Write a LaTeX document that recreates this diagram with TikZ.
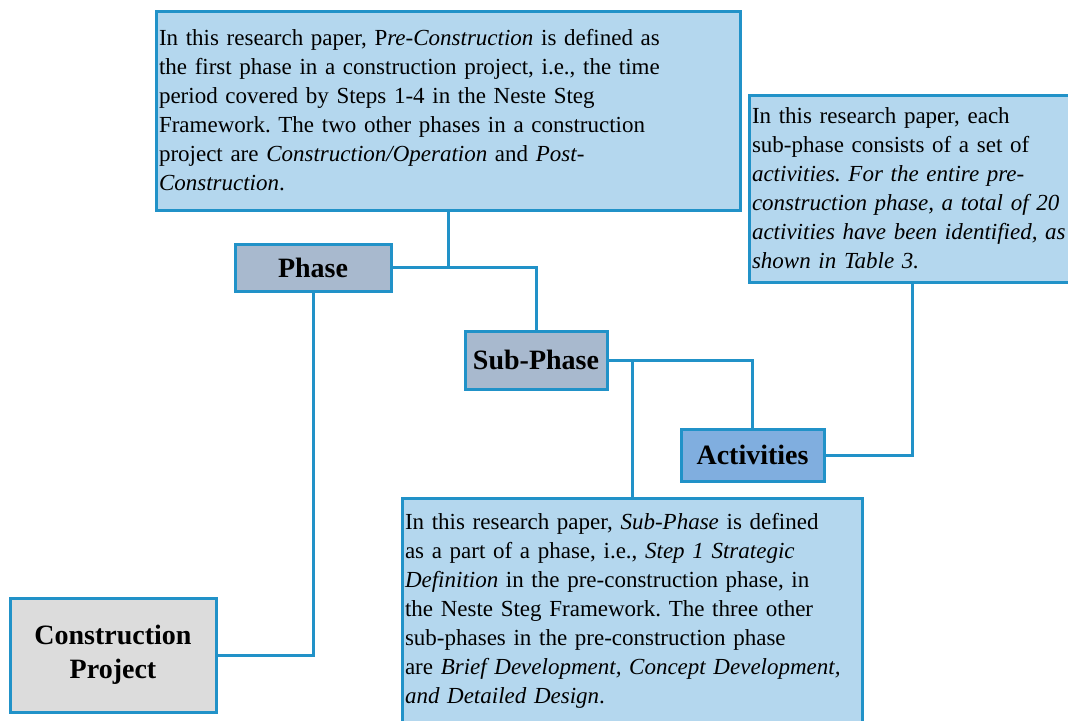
\documentclass[tikz,border=0pt]{standalone}
\usepackage{fontspec}
\setmainfont{Liberation Serif}
\usepackage{tikz}
\usetikzlibrary{positioning,calc}
\definecolor{lineblue}{RGB}{33,146,200}
\definecolor{noteblue}{RGB}{180,215,238}
\definecolor{phasegrey}{RGB}{168,185,206}
\definecolor{actblue}{RGB}{128,174,223}
\definecolor{projgrey}{RGB}{220,220,220}
\newcommand{\notefont}{\fontsize{11.5}{14.5}\selectfont\frenchspacing}
\newcommand{\termfont}{\bfseries\fontsize{14}{17}\selectfont}
\tikzset{note/.style={draw=lineblue, line width=1.5pt, fill=noteblue,
        align=left, inner xsep=1.5pt, inner ysep=0pt, font=\notefont},
    term/.style={draw=lineblue, line width=1.5pt, align=center,
        inner sep=0pt, font=\termfont},
    link/.style={lineblue, line width=1.5pt}
}

\begin{document}
\begin{tikzpicture}[x=0.5pt,y=-0.5pt]
	\useasboundingbox (0,0) rectangle (1068,720);
	\node[note,text width=289pt,minimum height=99.5pt] (defphase) at (448,110.5)
		{In this research paper, P\textit{re-Construction} is defined as\\
		the first phase in a construction project, i.e., the time\\
		period covered by Steps 1-4 in the Neste Steg\\
		Framework. The two other phases in a construction\\
		project are \textit{Construction/Operation} and \textit{Post-}\\
		\textit{Construction}.};
	\node[note,text width=160pt,minimum height=93.5pt] (defact) at (912,188.5)
		{In this research paper, each\\
		sub-phase consists of a set of\\
		\textit{activities. For the entire pre-}\\
		\textit{construction phase, a total of 20}\\
		\textit{activities have been identified, as}\\
		\textit{shown in Table 3.}};
	\node[note,text width=227pt,minimum height=113pt] (defsub) at (632,611)
		{In this research paper, \textit{Sub-Phase} is defined\\
		as a part of a phase, i.e., \textit{Step 1 Strategic}\\
		\textit{Definition} in the pre-construction phase, in\\
		the Neste Steg Framework. The three other\\
		sub-phases in the pre-construction phase\\
		are \textit{Brief Development, Concept Development,}\\
		\textit{and Detailed Design}.};
	\node[term,fill=phasegrey,minimum width=78pt,minimum height=23.5pt] (phase) at (313,267.5) {Phase};
	\node[term,fill=phasegrey,minimum width=71pt,minimum height=29pt] (subphase) at (536,360) {Sub-Phase};
	\node[term,fill=actblue,minimum width=71.5pt,minimum height=26pt] (act) at (752.5,455) {Activities};
	\node[term,fill=projgrey,minimum width=103pt,minimum height=57pt] (project) at (113,655) {Construction\\Project};
	\draw[link] (defphase.south) |- (phase.east);
	\draw[link] (phase.east) -| (subphase.north);
	\draw[link] (phase.south) |- (project.east);
	\draw[link] (subphase.east) -| (act.north);
	\draw[link] (defsub.north) -- (defsub.north |- subphase.east);
	\draw[link] (act.east) -| (defact.south);
\end{tikzpicture}
\end{document}
